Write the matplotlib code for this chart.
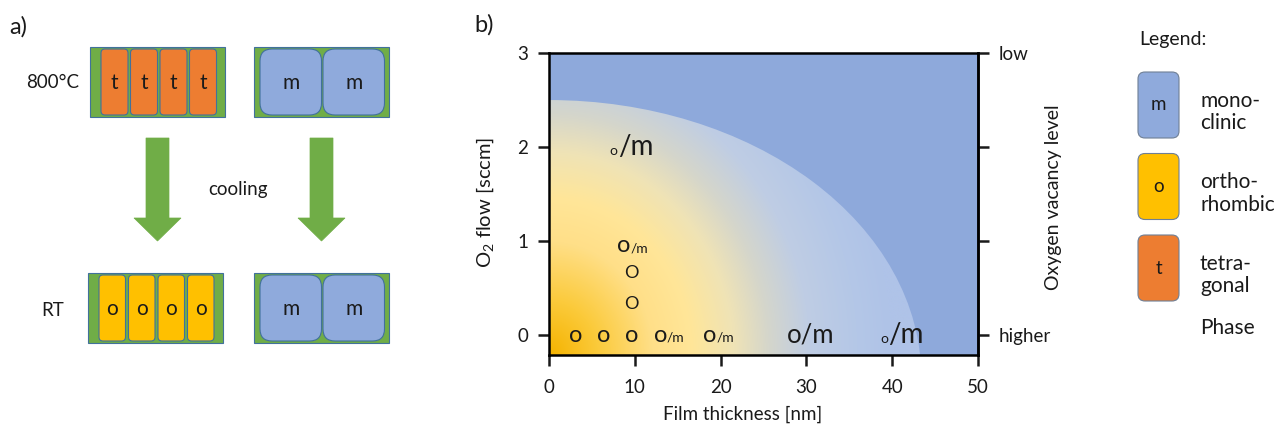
import matplotlib
matplotlib.use("Agg")
import matplotlib.pyplot as plt
import numpy as np
from matplotlib.colors import LinearSegmentedColormap
from matplotlib.patches import FancyBboxPatch, Rectangle, Polygon, Ellipse
from matplotlib.offsetbox import TextArea, HPacker, AnnotationBbox

plt.rcParams['font.family'] = ['Lato', 'DejaVu Sans']
plt.rcParams['mathtext.fontset'] = 'custom'
plt.rcParams['mathtext.rm'] = 'Lato'

# phase map samples: film thickness [nm], O2 flow [sccm], observed phase
sample_thickness = [3.1, 6.4, 9.6, 14.0, 19.8, 30.5, 41.1, 9.6, 9.6, 9.7, 9.6]
sample_flow = [0, 0, 0, 0, 0, 0, 0, 0.33, 0.66, 0.95, 2.0]
sample_phase = ['o', 'o', 'o', 'o+', 'o+', 'o/m', 'm+', 'O', 'O', 'o+', 'm+']

x_ticks = [0, 10, 20, 30, 40, 50]
y_ticks = [0, 1, 2, 3]
vacancy_labels = ['higher', '', '', 'low']

# grains in the cooling sketch
hot_grains = ['t', 't', 't', 't']
cold_grains = ['o', 'o', 'o', 'o']
mono_grains = ['m', 'm']
stages = ['800°C', 'RT']

legend_phases = ['m', 'o', 't']
legend_names = ['mono-\nclinic', 'ortho-\nrhombic', 'tetra-\ngonal']

phase_colors = {'t': '#ED7D31', 'o': '#FFC000', 'm': '#8FAADC'}
green = '#70AD47'
edge = '#41719C'
ink = '#1a1a1a'

# how each sample label is typeset: (text, fontsize) pieces on one baseline
label_parts = {
    'o': [('o', 17)],
    'O': [('O', 13)],
    'o+': [('o', 17), ('/m', 10)],
    'o/m': [('o/m', 18.5)],
    'm+': [('o', 10), ('/m', 20)],
}

W, H = 1274, 429
fig = plt.figure(figsize=(W / 100, H / 100), dpi=100)

# ---- a) sketch, drawn in pixel units ----
sk = fig.add_axes([0, 0, 1, 1])
sk.set_xlim(0, W)
sk.set_ylim(H, 0)
sk.axis('off')


def draw_film(x0, y0, grains, lead, grain_w, gap, radius):
    sk.add_patch(Rectangle((x0, y0), 135, 70, fc=green, ec=edge, lw=0.8))
    for i, g in enumerate(grains):
        gx = x0 + lead + i * (grain_w + gap)
        sk.add_patch(FancyBboxPatch((gx, y0 + 2), grain_w, 66,
                                    boxstyle=f'round,pad=0,rounding_size={radius}',
                                    fc=phase_colors[g], ec=edge, lw=0.8))
        sk.text(gx + grain_w / 2, y0 + 36, g, ha='center', va='center',
                fontsize=15, color=ink)


def draw_arrow(cx):
    pts = [(cx - 11.5, 138), (cx + 11.5, 138), (cx + 11.5, 218), (cx + 23.5, 218),
           (cx, 241), (cx - 23.5, 218), (cx - 11.5, 218)]
    sk.add_patch(Polygon(pts, closed=True, fc=green, ec=green, lw=0.5))


draw_film(90, 47, hot_grains, 11, 27, 2.5, 4)
draw_film(254, 47, mono_grains, 6, 61.5, 1.5, 12)
draw_film(88, 273, cold_grains, 11, 26.5, 3, 4)
draw_film(254, 273, mono_grains, 6, 61.5, 1.5, 12)
draw_arrow(157.5)
draw_arrow(321.5)

sk.text(53, 82, stages[0], ha='center', va='center', fontsize=13.5, color=ink)
sk.text(53, 310, stages[1], ha='center', va='center', fontsize=13.5, color=ink)
sk.text(238, 190, 'cooling', ha='center', va='center', fontsize=13.5, color=ink)
sk.text(9, 27, 'a)', ha='left', va='center', fontsize=17, color=ink)
sk.text(474, 25, 'b)', ha='left', va='center', fontsize=17, color=ink)

# legend column
sk.text(1139, 40, 'Legend:', ha='left', va='center', fontsize=14, color=ink)
for i, (ph, name) in enumerate(zip(legend_phases, legend_names)):
    top = 72 + i * 81.5
    sk.add_patch(FancyBboxPatch((1138, top), 41, 66,
                                boxstyle='round,pad=0,rounding_size=7',
                                fc=phase_colors[ph], ec='#6F7F95', lw=0.8))
    sk.text(1158.5, top + 33, ph, ha='center', va='center', fontsize=13.5, color=ink)
    sk.text(1200, top + 40, name, ha='left', va='center', fontsize=15,
            color=ink, linespacing=1.15)
sk.text(1200, 328, 'Phase', ha='left', va='center', fontsize=15, color=ink)

# ---- b) phase map ----
ax = fig.add_axes([549 / W, 74 / H, 429 / W, 302 / H])
ax.set_xlim(0, 50)
ax.set_ylim(-0.21, 3)
ax.set_facecolor('#8EA9DB')

gx, gy = np.meshgrid(np.linspace(0, 50, 800), np.linspace(-0.21, 3, 500))
shade = np.clip(np.sqrt((gx / 40) ** 2 + ((gy + 0.21) / 4.0) ** 2), 0, 1)
cmap = LinearSegmentedColormap.from_list('ortho_to_mono', [
    (0.0, '#F5B300'), (0.14, '#FBCA3A'), (0.3, '#FFDF88'), (0.42, '#FFE699'),
    (0.54, '#EFE3B6'), (0.64, '#D5D6CB'), (0.76, '#BFCDE4'), (0.9, '#B4C7E7'),
    (1.0, '#AFC3E8')])
img = ax.imshow(shade, extent=[0, 50, -0.21, 3], origin='lower', cmap=cmap,
                vmin=0, vmax=1, aspect='auto', interpolation='bilinear')
img.set_clip_path(Ellipse((0, -0.45), 2 * 43.4, 2 * 2.95, transform=ax.transData))

for x, y, ph in zip(sample_thickness, sample_flow, sample_phase):
    pieces = [TextArea(t, textprops=dict(fontsize=s, color=ink)) for t, s in label_parts[ph]]
    pack = HPacker(children=pieces, align='baseline', pad=0, sep=0)
    ax.add_artist(AnnotationBbox(pack, (x, y), frameon=False, pad=0,
                                 box_alignment=(0.5, 0.5), zorder=3))

for side in ax.spines.values():
    side.set_linewidth(1.8)
    side.set_color('black')
ax.set_xticks(x_ticks)
ax.set_yticks(y_ticks)
ax.tick_params(direction='out', length=8, width=1.8, labelsize=13.5, pad=7,
               colors=ink)
ax.tick_params(axis='x', pad=9)

ax_r = ax.twinx()
ax_r.set_ylim(ax.get_ylim())
ax_r.set_yticks(y_ticks)
ax_r.set_yticklabels(vacancy_labels)
ax_r.tick_params(direction='out', length=8, width=1.8, labelsize=13.5, pad=7,
                 colors=ink)
for name, side in ax_r.spines.items():
    side.set_visible(name == 'right')
    side.set_linewidth(1.8)

fig.text(743 / W, 1 - 414 / H, 'Film thickness [nm]', ha='center', va='center',
         fontsize=13.5, color=ink)
fig.text(485 / W, 1 - 202 / H, r'O$_{\mathrm{2}}$ flow [sccm]', ha='center',
         va='center', rotation=90, fontsize=14.5, color=ink)
fig.text(1053 / W, 1 - 197 / H, 'Oxygen vacancy level', ha='center', va='center',
         rotation=90, fontsize=14, color=ink)

fig.savefig('out.png', dpi=100, facecolor='white')
